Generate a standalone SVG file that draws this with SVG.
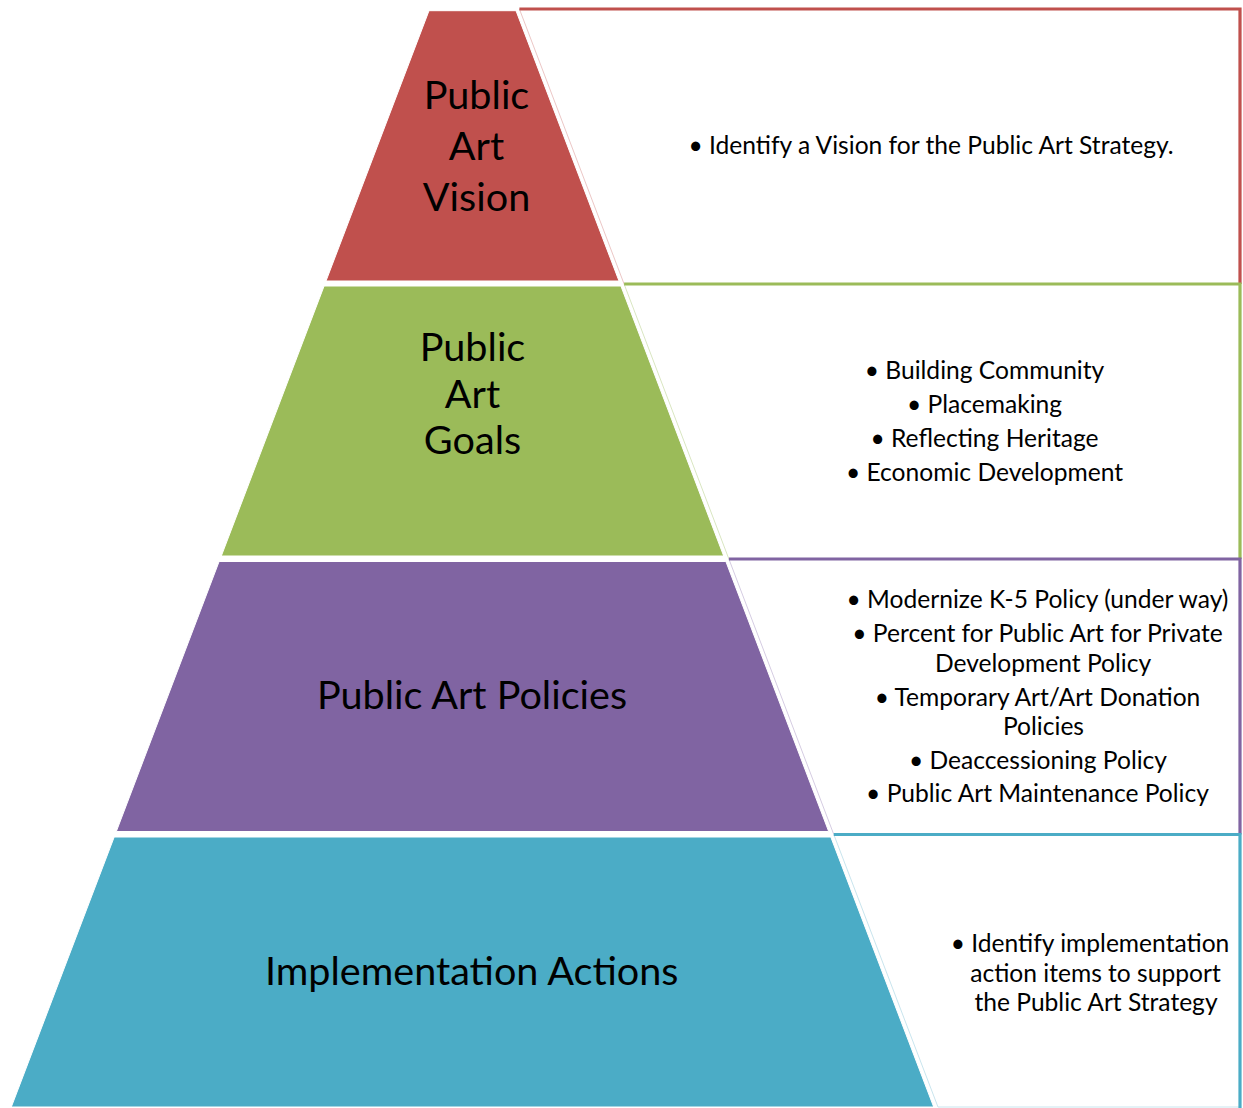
<svg xmlns="http://www.w3.org/2000/svg" width="1243" height="1108" viewBox="0 0 1243 1108">
<style>
.lbl{font-family:Lato,"Liberation Sans",sans-serif;font-size:39.6px;fill:#000;text-anchor:middle}
.txt{font-family:Lato,"Liberation Sans",sans-serif;font-size:24.6px;fill:#000;text-anchor:middle}
.panel{fill:#fff;stroke:none}
.edge{fill:none;stroke-width:3.2}
.faint{fill:none;stroke-width:1}
.seg{stroke:#fff;stroke-width:1}
</style>
<rect width="1243" height="1108" fill="#fff"/>
<g id="connectors"/>
<g id="vision">
  <polygon class="panel" points="519.4,9 1240,9 1240,284 624.1,284"/>
  <line class="faint" x1="519.4" y1="9" x2="624.1" y2="284" stroke="#ecc7c6"/>
  <polyline class="edge" points="519.4,9 1240,9 1240,284" stroke="#c0504d"/>
  <polygon class="seg" points="429,10.7 516,10.7 619,281 326,281" fill="#c0504d"/>
  <text class="lbl" x="476.5" y="109">Public</text>
  <text class="lbl" x="476.5" y="160">Art</text>
  <text class="lbl" x="476.5" y="211">Vision</text>
  <text class="txt" x="931" y="153.5">• Identify a Vision for the Public Art Strategy.</text>
</g>
<g id="goals">
  <polygon class="panel" points="624.1,284 1240,284 1240,559 728.9,559"/>
  <line class="faint" x1="624.1" y1="284" x2="728.9" y2="559" stroke="#d9e6c1"/>
  <polyline class="edge" points="624.1,284 1240,284 1240,559" stroke="#9bbb59"/>
  <polygon class="seg" points="324.1,286 620.9,286 723.7,556 221.3,556" fill="#9bbb59"/>
  <text class="lbl" x="472.5" y="361">Public</text>
  <text class="lbl" x="472.5" y="408">Art</text>
  <text class="lbl" x="472.5" y="454">Goals</text>
  <text class="txt" x="984.5" y="378.5">• Building Community</text>
  <text class="txt" x="984.5" y="412.5">• Placemaking</text>
  <text class="txt" x="984.5" y="446.5">• Reflecting Heritage</text>
  <text class="txt" x="984.5" y="480.5">• Economic Development</text>
</g>
<g id="policies">
  <polygon class="panel" points="728.9,559 1240,559 1240,834.5 833.8,834.5"/>
  <line class="faint" x1="728.9" y1="559" x2="833.8" y2="834.5" stroke="#d5cce2"/>
  <polyline class="edge" points="728.9,559 1240,559 1240,834.5" stroke="#8064a2"/>
  <polygon class="seg" points="219.1,561.5 725.9,561.5 828.7,831.5 116.3,831.5" fill="#8064a2"/>
  <text class="lbl" x="472" y="709">Public Art Policies</text>
  <text class="txt" x="1037.5" y="607.5">• Modernize K-5 Policy (under way)</text>
  <text class="txt" x="1037.5" y="641.5">• Percent for Public Art for Private</text>
  <text class="txt" x="1043" y="671.5">Development Policy</text>
  <text class="txt" x="1037.5" y="705.5">• Temporary Art/Art Donation</text>
  <text class="txt" x="1043.5" y="734.5">Policies</text>
  <text class="txt" x="1038" y="768.5">• Deaccessioning Policy</text>
  <text class="txt" x="1037.5" y="802">• Public Art Maintenance Policy</text>
</g>
<g id="actions">
  <polygon class="panel" points="833.8,834.5 1240,834.5 1240,1107 938,1107"/>
  <line class="faint" x1="833.8" y1="834.5" x2="938" y2="1107" stroke="#c9e5ee"/>
  <line class="faint" x1="938" y1="1107" x2="1240" y2="1107" stroke="#c9e5ee"/>
  <polyline class="edge" points="833.8,834.5 1240,834.5 1240,1108" stroke="#4bacc6"/>
  <polygon class="seg" points="114.2,837 830.8,837 933.7,1107 11.3,1107" fill="#4bacc6"/>
  <text class="lbl" x="471.7" y="985">Implementation Actions</text>
  <text class="txt" x="1090" y="952">• Identify implementation</text>
  <text class="txt" x="1095.5" y="981.5">action items to support</text>
  <text class="txt" x="1096" y="1011">the Public Art Strategy</text>
</g>
</svg>
